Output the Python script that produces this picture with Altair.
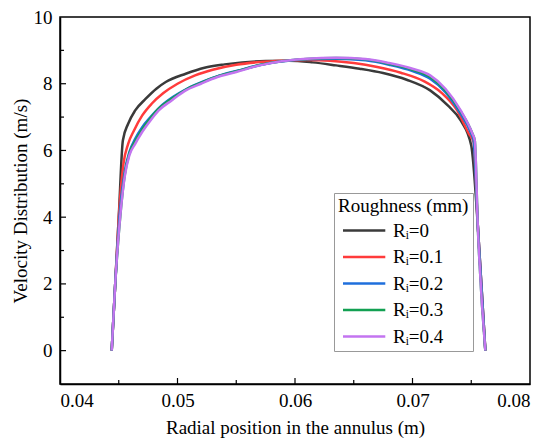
import altair as alt
import pandas as pd

# ---- data ----
series_labels = ["Rᵢ=0", "Rᵢ=0.1", "Rᵢ=0.2", "Rᵢ=0.3", "Rᵢ=0.4"]
series_colors = ["#3a3a3a", "#ff3b3b", "#1f6fdc", "#12a052", "#c374f0"]

x_r0 = [0.0444, 0.0447, 0.0450, 0.04535, 0.0458, 0.0464, 0.0473, 0.0482, 0.0490, 0.0507,
        0.0523, 0.0540, 0.0555, 0.0575, 0.0595, 0.0615, 0.0635, 0.0655, 0.0675, 0.0695,
        0.0715, 0.0730, 0.0741, 0.0750, 0.07555, 0.0762]
y_r0 = [0, 2.0, 4.0, 6.3, 6.8, 7.2, 7.55, 7.85, 8.05, 8.3,
        8.48, 8.58, 8.64, 8.68, 8.69, 8.64, 8.55, 8.45, 8.32, 8.12,
        7.8, 7.35, 6.9, 6.15, 3.8, 0]

x_r1 = [0.0444, 0.0447, 0.0450, 0.0454, 0.0458, 0.0463, 0.0470, 0.0478, 0.0488, 0.0500,
        0.0515, 0.0530, 0.0550, 0.0570, 0.0590, 0.0610, 0.0630, 0.0650, 0.0670, 0.0690,
        0.0710, 0.0725, 0.0738, 0.0748, 0.0752, 0.07555, 0.0762]
y_r1 = [0, 2.0, 4.0, 5.6, 6.2, 6.6, 7.05, 7.4, 7.72, 8.0,
        8.25, 8.42, 8.57, 8.65, 8.69, 8.71, 8.69, 8.62, 8.5, 8.33,
        8.07, 7.72, 7.2, 6.5, 6.25, 3.8, 0]

x_r2 = [0.0444, 0.0447, 0.0451, 0.0455, 0.0459, 0.0464, 0.0470, 0.0477, 0.0485, 0.0496,
        0.0508, 0.0522, 0.0536, 0.0552, 0.0570, 0.0590, 0.0610, 0.0635, 0.0660, 0.0680,
        0.0700, 0.0715, 0.0728, 0.0740, 0.0750, 0.0752, 0.07555, 0.0762]
y_r2 = [0, 2.0, 4.2, 5.35, 5.95, 6.35, 6.7, 7.0, 7.3, 7.6,
        7.85, 8.07, 8.25, 8.4, 8.56, 8.67, 8.73, 8.75, 8.7, 8.57,
        8.38, 8.15, 7.75, 7.15, 6.5, 6.3, 3.8, 0]

x_r3 = [0.0444, 0.0447, 0.0452, 0.0455, 0.0459, 0.0464, 0.0469, 0.0476, 0.0484, 0.0495,
        0.0507, 0.0521, 0.0535, 0.0551, 0.0570, 0.0590, 0.0610, 0.0635, 0.0660, 0.0680,
        0.0700, 0.0715, 0.0728, 0.0741, 0.0751, 0.0753, 0.07555, 0.0762]
y_r3 = [0, 2.0, 4.3, 5.25, 5.9, 6.28, 6.58, 6.92, 7.25, 7.55,
        7.82, 8.04, 8.23, 8.38, 8.56, 8.68, 8.74, 8.77, 8.73, 8.6,
        8.42, 8.2, 7.8, 7.17, 6.5, 6.3, 3.8, 0]

x_r4 = [0.0444, 0.0447, 0.0452, 0.0455, 0.0459, 0.0464, 0.0469, 0.0476, 0.0484, 0.0495,
        0.0506, 0.0520, 0.0534, 0.0550, 0.0570, 0.0590, 0.0610, 0.0635, 0.0660, 0.0680,
        0.0700, 0.0715, 0.0728, 0.0741, 0.0751, 0.0753, 0.07555, 0.0762]
y_r4 = [0, 2.0, 4.3, 5.2, 5.85, 6.2, 6.5, 6.85, 7.2, 7.5,
        7.78, 8.0, 8.2, 8.35, 8.55, 8.68, 8.75, 8.78, 8.74, 8.62,
        8.45, 8.25, 7.85, 7.2, 6.5, 6.3, 3.8, 0]

x_major = [0.04, 0.05, 0.06, 0.07, 0.08]
x_minor = [0.045, 0.055, 0.065, 0.075]
y_major = [0, 2, 4, 6, 8, 10]
y_minor = [-1, 1, 3, 5, 7, 9]

xs = [x_r0, x_r1, x_r2, x_r3, x_r4]
ys = [y_r0, y_r1, y_r2, y_r3, y_r4]
rows = []
for k, (lab, xx, yy) in enumerate(zip(series_labels, xs, ys)):
    for i, (a, b) in enumerate(zip(xx, yy)):
        rows.append({"x": a, "y": b, "series": lab, "order": i, "k": k})
df = pd.DataFrame(rows)

W, H = 470, 367
FONT = "Liberation Serif"

xscale = alt.Scale(domain=[0.04, 0.08], nice=False, zero=False)
yscale = alt.Scale(domain=[-1, 10], nice=False, zero=False)

lines = alt.Chart(df).mark_line(strokeWidth=2.5, clip=True, interpolate="monotone").encode(
    x=alt.X("x:Q", scale=xscale,
            axis=alt.Axis(values=x_major, format=".2f", tickSize=0, grid=False,
                          title="Radial position in the annulus (m)",
                          labelPadding=7, titlePadding=8)),
    y=alt.Y("y:Q", scale=yscale,
            axis=alt.Axis(values=y_major, tickSize=0, grid=False,
                          title="Velocity Distribution (m/s)",
                          labelPadding=8, titlePadding=3)),
    color=alt.Color("series:N",
                    scale=alt.Scale(domain=series_labels, range=series_colors),
                    legend=alt.Legend(title="Roughness (mm)", orient="none",
                                      legendX=274, legendY=176,
                                      symbolType="M-1,0L8.4,0", symbolSize=81,
                                      symbolStrokeWidth=2.5,
                                      labelFont=FONT, labelFontSize=19,
                                      titleFont=FONT, titleFontSize=19,
                                      titleFontWeight="normal",
                                      labelColor="black", titleColor="black",
                                      strokeColor="#999999", fillColor="white",
                                      padding=4, rowPadding=6.5, labelOffset=36,
                                      titlePadding=5)),
    detail="k:N",
    order="order:Q",
)

xt_major = alt.Chart(pd.DataFrame({"x": x_major[1:-1]})).mark_rule(color="black", strokeWidth=1.2).encode(
    x=alt.X("x:Q", scale=xscale), y=alt.value(H), y2=alt.value(H - 6))
xt_minor = alt.Chart(pd.DataFrame({"x": x_minor})).mark_rule(color="black", strokeWidth=1.2).encode(
    x=alt.X("x:Q", scale=xscale), y=alt.value(H), y2=alt.value(H - 4))
yt_major = alt.Chart(pd.DataFrame({"y": y_major[:-1]})).mark_rule(color="black", strokeWidth=1.2).encode(
    y=alt.Y("y:Q", scale=yscale), x=alt.value(0), x2=alt.value(6))
yt_minor = alt.Chart(pd.DataFrame({"y": y_minor[1:]})).mark_rule(color="black", strokeWidth=1.2).encode(
    y=alt.Y("y:Q", scale=yscale), x=alt.value(0), x2=alt.value(4))

chart = alt.layer(lines, xt_major, xt_minor, yt_major, yt_minor).properties(
    width=W, height=H,
    background="white",
    autosize=alt.AutoSizeParams(type="none"),
    padding={"left": 52, "top": 9, "right": 12, "bottom": 60},
).configure_view(
    stroke="black", strokeWidth=1.5
).configure_axis(
    labelFont=FONT, titleFont=FONT, labelFontSize=19, titleFontSize=19,
    labelColor="black", titleColor="black", titleFontWeight="normal",
    domainColor="black", domainWidth=1.5,
)

chart.save("out.html", embed_options={"renderer": "svg", "actions": False})
